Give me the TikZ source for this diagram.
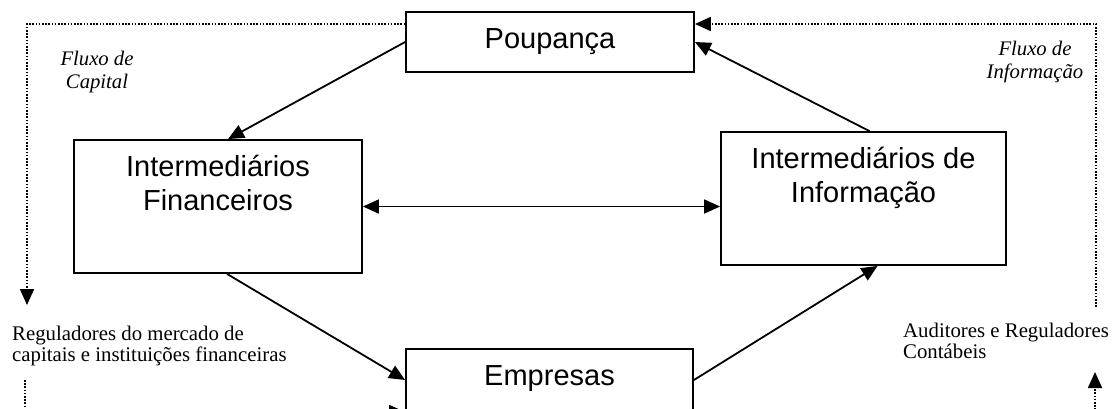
\documentclass[tikz,border=0pt]{standalone}
\usepackage{fontspec}
\setmainfont{Liberation Serif}
\setsansfont{Liberation Sans}
\usepackage{tikz}
\usetikzlibrary{arrows.meta, positioning, calc}

\tikzset{
  ponta/.tip={Triangle[length=16pt, width=14pt]},
  caixa/.style={draw, line width=1.8pt, rectangle, inner sep=0pt, font=\sffamily\fontsize{29}{34}\selectfont, align=center},
  textocaixa/.style={inner sep=0pt, font=\sffamily\fontsize{29}{34}\selectfont, align=center},
  seta/.style={line width=1.8pt, -ponta},
  fluxo/.style={line width=1.8pt, dash pattern=on 1.6pt off 1.6pt, -ponta},
  rotulo/.style={inner sep=0pt, font=\itshape\fontsize{20.7}{23}\selectfont, align=center},
  regulador/.style={inner sep=0pt, font=\fontsize{20.8}{21.5}\selectfont, align=left}
}

\begin{document}
\begin{tikzpicture}[x=1pt, y=-1pt]
  \path[use as bounding box, clip] (0,0) rectangle (1115,408);

  \node[caixa, minimum width=288pt, minimum height=60pt] (poup) at (550,42) {Poupança};
  \node[caixa, minimum width=288pt, minimum height=133pt] (fin) at (218,206.5) {};
  \node[caixa, minimum width=285pt, minimum height=133pt] (info) at (863.5,198.5) {};
  \node[caixa, minimum width=287pt, minimum height=81pt] (emp) at (549.5,389.5) {};

  \node[textocaixa, below=16.3pt of fin.north] (fintxt) {Intermediários\\Financeiros};
  \node[textocaixa, below=16.3pt of info.north] (infotxt) {Intermediários de\\Informação};
  \node[textocaixa, below=17.2pt of emp.north] (emptxt) {Empresas};

  \draw[seta] (poup.west) -- ([xshift=10pt]fin.north);
  \draw[seta] ([xshift=6pt]info.north) -- (poup.east);
  \draw[seta] ([xshift=9pt]fin.south) -- ([yshift=9.5pt]emp.west);
  \draw[seta] ([yshift=9.5pt]emp.east) -- ([xshift=14pt]info.south);
  \draw[seta, ponta-ponta] (fin.east) -- (fin.east -| info.west);

  % fluxo de capital
  \coordinate (capa) at (27,24);
  \coordinate (capb) at (27,305);
  \coordinate (capc) at (25,380);
  \coordinate (capd) at (25,412);
  \draw[fluxo] (poup.west |- capa) -- (capa) -- (capb);
  \draw[fluxo] (capc) -- (capd) -- (emp.west |- capd);

  % fluxo de informacao
  \coordinate (infa) at (1096,307);
  \coordinate (infb) at (1096,24);
  \coordinate (infc) at (1095,412);
  \coordinate (infd) at (1095,372);
  \draw[fluxo] (infa) -- (infb) -- (poup.east |- infb);
  \draw[fluxo] (emp.east |- infc) -- (infc) -- (infd);

  \node[rotulo] (fluxcap) at (97,71.7) {Fluxo de\\Capital};
  \node[rotulo] (fluxinf) at (1035,61.9) {Fluxo de\\Informação};
  \node[regulador, anchor=north west] (regcap) at (12,325.8) {Reguladores do mercado de\\capitais e instituições financeiras};
  \node[regulador, anchor=north west] (regcont) at (903,322.5) {Auditores e Reguladores\\Contábeis};
\end{tikzpicture}
\end{document}
